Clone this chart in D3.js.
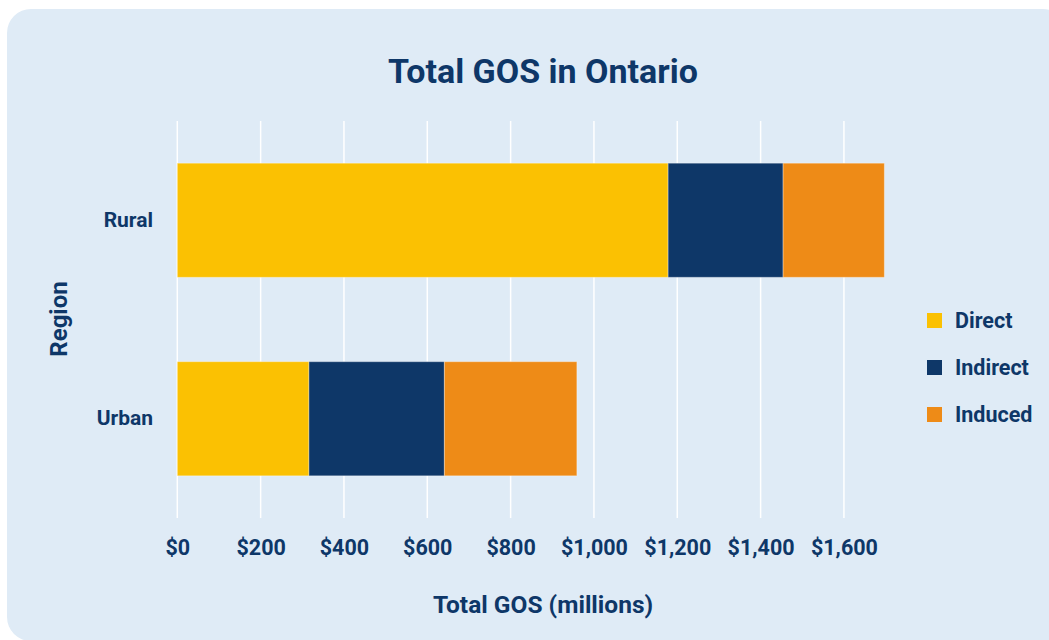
<!DOCTYPE html>
<html>
<head>
<meta charset="utf-8">
<script src="https://cdn.jsdelivr.net/npm/d3@7"></script>
<style>
  html, body { margin: 0; padding: 0; background: #ffffff; }
  svg { display: block; }
  text { font-family: Roboto, "Noto Sans", sans-serif; fill: #0e3768; }
</style>
</head>
<body>
<svg id="chart" width="1049" height="640"></svg>
<script>
const regions = ["Rural", "Urban"];
const seriesNames = ["Direct", "Indirect", "Induced"];
const directValues = [1178, 316];
const indirectValues = [276, 325];
const inducedValues = [243, 318];
const tickValues = [0, 200, 400, 600, 800, 1000, 1200, 1400, 1600];
const colors = ["#fbc102", "#0e3768", "#ee8b17"];

const rows = regions.map((r, i) => ({
  region: r,
  Direct: directValues[i],
  Indirect: indirectValues[i],
  Induced: inducedValues[i]
}));

const svg = d3.select("#chart");

// card background
svg.append("rect")
  .attr("x", 7).attr("y", 9)
  .attr("width", 1060).attr("height", 632)
  .attr("rx", 24).attr("ry", 24)
  .attr("fill", "#dfebf6");

const x = d3.scaleLinear().domain([0, 1700]).range([177.3, 885.6]);
const y = d3.scaleBand().domain(regions).range([121, 518])
  .paddingInner(0.425).paddingOuter(0.2125);
const color = d3.scaleOrdinal().domain(seriesNames).range(colors);

// grid
svg.append("g").selectAll("line").data(tickValues).join("line")
  .attr("x1", d => x(d)).attr("x2", d => x(d))
  .attr("y1", 121).attr("y2", 518)
  .attr("stroke", "#ffffff").attr("stroke-width", 1.5);

// bars
const stack = d3.stack().keys(seriesNames)(rows);
svg.append("g").selectAll("g").data(stack).join("g")
  .attr("fill", d => color(d.key))
  .selectAll("rect").data(d => d).join("rect")
  .attr("x", d => x(d[0]))
  .attr("width", d => x(d[1]) - x(d[0]))
  .attr("y", d => y(d.data.region))
  .attr("height", y.bandwidth())
  .attr("stroke", "rgba(255,255,255,0.35)")
  .attr("stroke-width", 1);

// x axis
const xAxis = svg.append("g").attr("transform", "translate(0,540)")
  .call(d3.axisBottom(x).tickValues(tickValues)
    .tickFormat(d => "$" + d3.format(",")(d)).tickSize(0).tickPadding(0));
xAxis.select(".domain").remove();
xAxis.selectAll("text")
  .attr("dy", "0.71em")
  .style("font-size", "21.5px").style("font-weight", "700")
  .style("font-family", "Roboto").attr("fill", "#0e3768");

// y axis
const yAxis = svg.append("g").attr("transform", "translate(153,0)")
  .call(d3.axisLeft(y).tickSize(0).tickPadding(0));
yAxis.select(".domain").remove();
yAxis.selectAll("text")
  .style("font-size", "21px").style("font-weight", "700")
  .style("font-family", "Roboto").attr("fill", "#0e3768");

// title
svg.append("text")
  .attr("x", 543).attr("y", 83)
  .attr("text-anchor", "middle")
  .style("font-size", "34px").style("font-weight", "700")
  .text("Total GOS in Ontario");

// axis titles
svg.append("text")
  .attr("x", 543).attr("y", 613)
  .attr("text-anchor", "middle")
  .style("font-size", "24.5px").style("font-weight", "700")
  .text("Total GOS (millions)");

svg.append("text")
  .attr("transform", "translate(67,319) rotate(-90)")
  .attr("text-anchor", "middle")
  .style("font-size", "24px").style("font-weight", "700")
  .text("Region");

// legend
const legend = svg.append("g").selectAll("g").data(seriesNames).join("g")
  .attr("transform", (d, i) => `translate(927,${313 + i * 47})`);
legend.append("rect")
  .attr("width", 15).attr("height", 15)
  .attr("fill", d => color(d));
legend.append("text")
  .attr("x", 28).attr("y", 14.5)
  .style("font-size", "21.5px").style("font-weight", "700")
  .text(d => d);
</script>
</body>
</html>
